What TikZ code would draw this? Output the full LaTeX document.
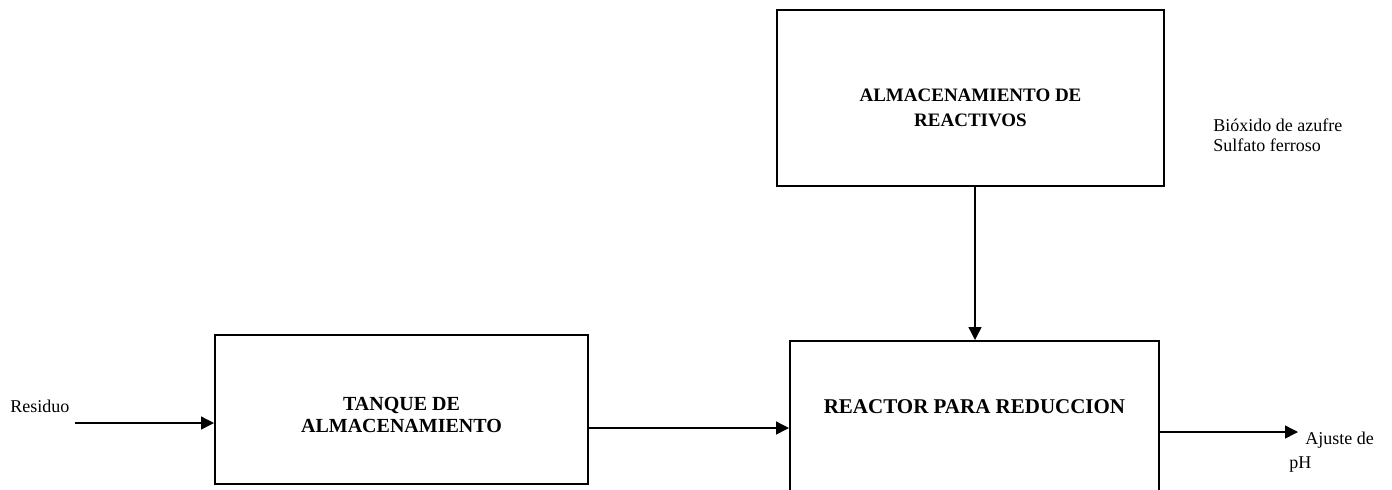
\documentclass[tikz,border=0pt]{standalone}
\usepackage{fontspec}
\setmainfont{Liberation Serif}
\usetikzlibrary{arrows.meta,positioning,calc}
\tikzset{
  procbox/.style={draw=black,line width=1pt,inner sep=0pt,
                  align=center,font=\fontsize{10}{11}\selectfont\bfseries},
  flowarr/.style={-{Triangle[length=6.5pt,width=6.5pt]},line width=0.7pt},
  sidelabel/.style={inner sep=0pt,align=left,font=\fontsize{9}{10}\selectfont}
}

\begin{document}
\begin{tikzpicture}[x=0.5pt,y=-0.5pt]
  \useasboundingbox (0,0) rectangle (1392,489);

  % Process boxes
  \node[procbox,minimum width=193.5pt,minimum height=88pt,text height=29pt,
        font=\fontsize{9.5}{12.5}\selectfont\bfseries] (store) at (970.5,98)
    {ALMACENAMIENTO DE\\REACTIVOS};
  \node[procbox,minimum width=186.5pt,minimum height=74.5pt,text height=23.5pt] (tank) at (401.5,409.5)
    {TANQUE DE\\ALMACENAMIENTO};
  \node[procbox,minimum width=184.5pt,minimum height=78pt,text depth=12pt,
        font=\fontsize{10.5}{12}\selectfont\bfseries] (reactor) at (974.5,419)
    {REACTOR PARA REDUCCION};

  % Labels
  \node[sidelabel,anchor=base west] (waste) at (10,412) {Residuo};
  \node[sidelabel,anchor=base west] (chem) at (1213,151)
    {Bióxido de azufre\\Sulfato ferroso};
  \node[sidelabel,anchor=base west] (ph1) at (1305,444) {Ajuste de};
  \node[sidelabel,anchor=base west] (ph2) at (1289,468) {pH};

  % Free ends
  \coordinate (win) at (75,423);
  \coordinate (pout) at (1298,432);

  % Connectors
  \draw[flowarr] (win) -- (win -| tank.west);
  \draw[flowarr] ([yshift=-9.25pt]tank.east) -- ([yshift=-9.25pt]tank.east -| reactor.west);
  \draw[flowarr] ([xshift=2.25pt]store.south) -- ([xshift=2.25pt]store.south |- reactor.north);
  \draw[flowarr] (pout -| reactor.east) -- (pout);
\end{tikzpicture}
\end{document}
